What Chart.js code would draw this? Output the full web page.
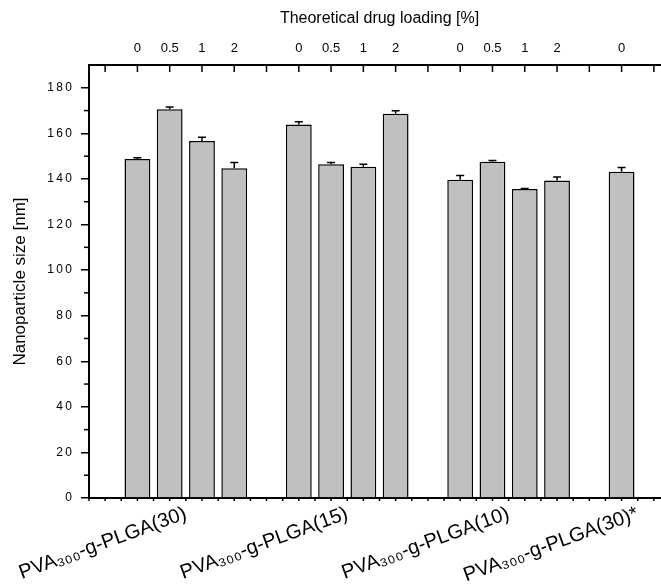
<!DOCTYPE html>
<html>
<head>
<meta charset="utf-8">
<script src="https://cdn.jsdelivr.net/npm/chart.js@4"></script>
<style>
  html, body { margin: 0; padding: 0; overflow: hidden; background: #fff; }
</style>
</head>
<body>
<canvas id="chart" width="670" height="585"></canvas>
<script>
// slot positions of the bars along x (gaps between the polymer groups)
const slots = [1, 2, 3, 4, 6, 7, 8, 9, 11, 12, 13, 14, 16];
const loadings = ["0", "0.5", "1", "2", "0", "0.5", "1", "2", "0", "0.5", "1", "2", "0"];
const sizes = [148.7, 170.6, 156.6, 144.7, 163.9, 146.5, 145.3, 168.6, 139.7, 147.6, 135.6, 139.3, 143.2];
const errors = [0.6, 1.0, 1.7, 2.5, 1.2, 0.7, 1.2, 1.3, 1.8, 0.5, 0.2, 1.6, 1.8];
const groupNames = ["PVA₃₀₀-g-PLGA(30)", "PVA₃₀₀-g-PLGA(15)", "PVA₃₀₀-g-PLGA(10)", "PVA₃₀₀-g-PLGA(30)*"];
const groupPos = [2.5, 7.5, 12.5, 16.5];
const yTicks = [0, 20, 40, 60, 80, 100, 120, 140, 160, 180];

const FONT = "'Liberation Sans', Arial, sans-serif";

// error bars (upper whisker only) and the extra tick marks
const extras = {
  id: "extras",
  afterDatasetsDraw(chart) {
    const ctx = chart.ctx;
    const x = chart.scales.x;
    const y = chart.scales.y;
    ctx.save();
    ctx.strokeStyle = "#000";
    ctx.lineWidth = 1.5;
    for (let i = 0; i < sizes.length; i++) {
      const px = x.getPixelForValue(slots[i]);
      const top = y.getPixelForValue(sizes[i]);
      const end = y.getPixelForValue(sizes[i] + errors[i]);
      ctx.beginPath();
      ctx.moveTo(px, top);
      ctx.lineTo(px, end);
      ctx.moveTo(px - 4, end);
      ctx.lineTo(px + 4, end);
      ctx.stroke();
    }
    const area = chart.chartArea;
    // top axis ticks, pointing in
    for (let s = 0; s <= 17; s++) {
      const px = x.getPixelForValue(s);
      ctx.beginPath();
      ctx.moveTo(px, area.top);
      ctx.lineTo(px, area.top + 7);
      ctx.stroke();
    }
    // bottom axis small ticks every half slot
    for (let s = 0; s <= 35; s++) {
      const px = x.getPixelForValue(-0.5 + s * 0.5);
      ctx.beginPath();
      ctx.moveTo(px, area.bottom);
      ctx.lineTo(px, area.bottom + 3);
      ctx.stroke();
    }
    // y minor ticks
    for (let v = 10; v < 190; v += 20) {
      const py = y.getPixelForValue(v);
      ctx.beginPath();
      ctx.moveTo(area.left, py);
      ctx.lineTo(area.left - 5, py);
      ctx.stroke();
    }
    ctx.restore();
  }
};

new Chart(document.getElementById("chart"), {
  type: "bar",
  data: {
    datasets: [{
      data: slots.map((s, i) => ({ x: s, y: sizes[i] })),
      backgroundColor: "#c0c0c0",
      borderColor: "#000",
      borderWidth: 1.5,
      barPercentage: 0.8,
      categoryPercentage: 1.0
    }]
  },
  options: {
    responsive: false,
    animation: false,
    layout: { padding: 0 },
    plugins: { legend: { display: false }, tooltip: { enabled: false } },
    scales: {
      x: {
        type: "linear",
        position: "bottom",
        min: -0.5,
        max: 17.5,
        offset: false,
        grid: { display: false, offset: false },
        border: { display: true, color: "#000", width: 2 },
        afterBuildTicks: (axis) => { axis.ticks = groupPos.map(v => ({ value: v })); },
        afterFit: (axis) => { axis.height = 87; },
        ticks: {
          autoSkip: false,
          minRotation: 20,
          maxRotation: 20,
          padding: -4,
          color: "#000",
          font: { family: FONT, size: 20 },
          callback: (v) => groupNames[groupPos.indexOf(v)]
        }
      },
      x2: {
        type: "linear",
        position: "top",
        min: -0.5,
        max: 17.5,
        offset: false,
        grid: { display: false, drawTicks: false, offset: false },
        border: { display: true, color: "#000", width: 2 },
        afterBuildTicks: (axis) => { axis.ticks = slots.map(v => ({ value: v })); },
        afterFit: (axis) => { axis.height = 65; },
        title: {
          display: true,
          text: "Theoretical drug loading [%]",
          color: "#000",
          font: { family: FONT, size: 16 },
          padding: { top: 9, bottom: 0 }
        },
        ticks: {
          autoSkip: false,
          maxRotation: 0,
          padding: 9,
          color: "#000",
          font: { family: FONT, size: 13 },
          callback: (v) => loadings[slots.indexOf(v)]
        }
      },
      y: {
        min: 0,
        max: 190,
        grid: { display: true, drawOnChartArea: false, tickLength: 8, color: "#000", lineWidth: 1.5 },
        border: { display: true, color: "#000", width: 2 },
        afterBuildTicks: (axis) => { axis.ticks = yTicks.map(v => ({ value: v })); },
        afterFit: (axis) => { axis.width = 89; },
        title: {
          display: true,
          text: "Nanoparticle size [nm]",
          color: "#000",
          font: { family: FONT, size: 17 },
          padding: { top: 10, bottom: 0 }
        },
        ticks: {
          padding: 9,
          color: "#000",
          font: { family: FONT, size: 12 },
          callback: (v) => String(v).split("").join("\u2009")
        }
      }
    }
  },
  plugins: [extras]
});
</script>
</body>
</html>
